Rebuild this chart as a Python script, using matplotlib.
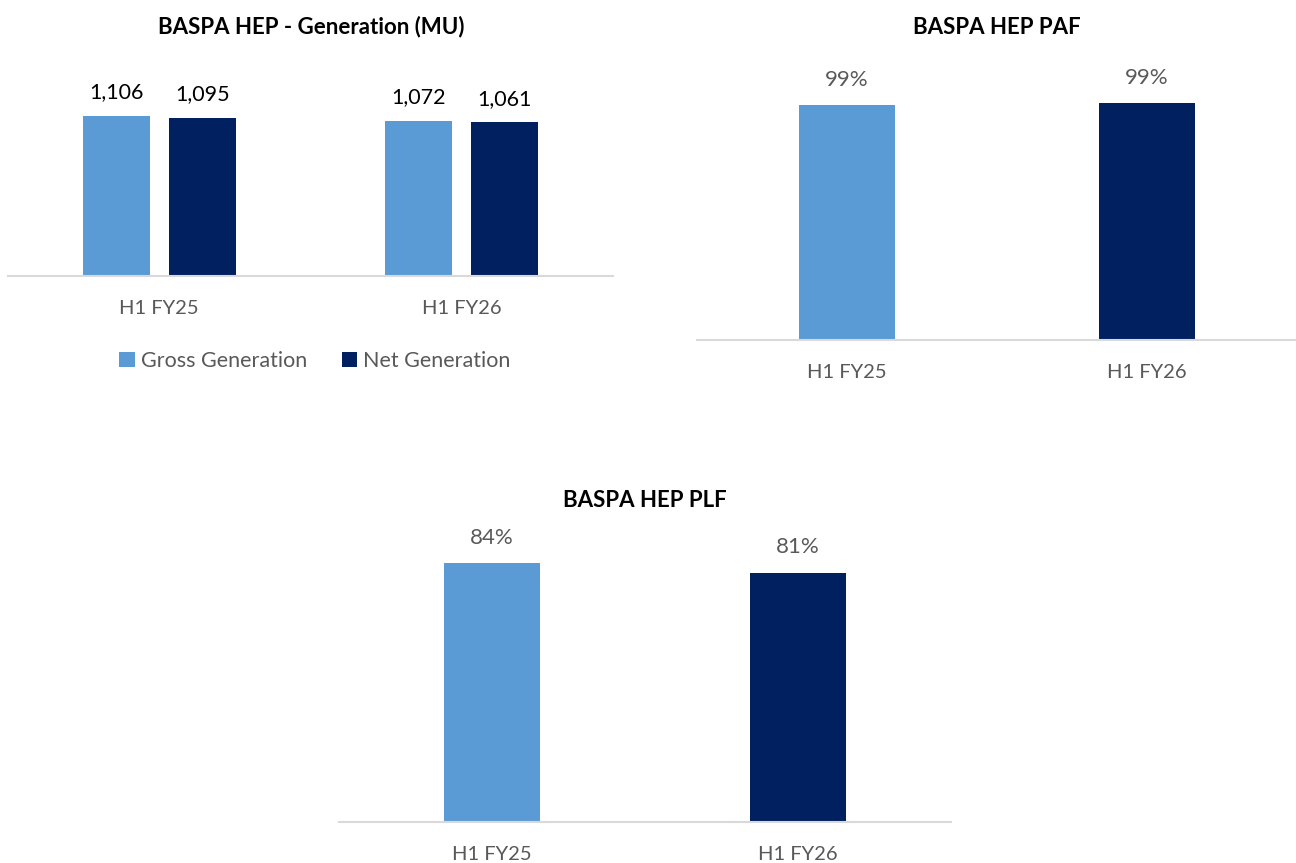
import numpy as np
import matplotlib.pyplot as plt

periods = ["H1 FY25", "H1 FY26"]
gross_gen = [1106, 1072]
net_gen = [1095, 1061]
gen_labels_gross = ["1,106", "1,072"]
gen_labels_net = ["1,095", "1,061"]
paf = [98.6, 99.6]
paf_labels = ["99%", "99%"]
plf = [84, 81]
plf_labels = ["84%", "81%"]

LIGHT = "#5B9BD5"
DARK = "#002060"
GRAY = "#595959"
W, H = 1296, 863

plt.rcParams['font.family'] = ['Lato', 'DejaVu Sans']


def px_axes(fig, x0, x1, ytop, ybase):
    return fig.add_axes([x0 / W, 1 - ybase / H, (x1 - x0) / W, (ybase - ytop) / H])


def style(ax):
    for s in ["top", "right", "left"]:
        ax.spines[s].set_visible(False)
    ax.spines["bottom"].set_color("#D9D9D9")
    ax.spines["bottom"].set_linewidth(1.5)
    ax.set_yticks([])
    ax.tick_params(axis="x", length=0, pad=17, labelsize=14.5, labelcolor=GRAY)
    ax.set_xlim(-0.5, 1.5)


fig = plt.figure(figsize=(W / 100, H / 100), dpi=100)

# generation chart
x = np.arange(len(periods))
ax1 = px_axes(fig, 8, 613, 60, 276)
style(ax1)
bw, off = 0.222, 0.142
b1 = ax1.bar(x - off, gross_gen, bw, color=LIGHT, label="Gross Generation")
b2 = ax1.bar(x + off, net_gen, bw, color=DARK, label="Net Generation")
ax1.set_ylim(0, 1493)
ax1.set_xticks(x)
ax1.set_xticklabels(periods)
ax1.bar_label(b1, labels=gen_labels_gross, padding=10, fontsize=15.5, color="black")
ax1.bar_label(b2, labels=gen_labels_net, padding=10, fontsize=15.5, color="black")
fig.text(311 / W, 1 - 27 / H, "BASPA HEP - Generation (MU)", ha="center", va="center",
         fontsize=16, fontweight="bold")
fig.legend(handles=[b1, b2], loc="center", bbox_to_anchor=(315 / W, 1 - 361 / H), ncol=2,
           frameon=False, fontsize=15.5, labelcolor=GRAY, handlelength=0.7, handleheight=0.7,
           handletextpad=0.3, columnspacing=1.6)

# PAF chart
ax2 = px_axes(fig, 697, 1297, 60, 340)
style(ax2)
b3 = ax2.bar(x, paf, 0.317, color=[LIGHT, DARK])
ax2.set_ylim(0, 117.6)
ax2.set_xticks(x)
ax2.set_xticklabels(periods)
ax2.bar_label(b3, labels=paf_labels, padding=11, fontsize=16, color=GRAY)
fig.text(997 / W, 1 - 28 / H, "BASPA HEP PAF", ha="center", va="center",
         fontsize=16, fontweight="bold")

# PLF chart
ax3 = px_axes(fig, 339, 951, 530, 822)
style(ax3)
b4 = ax3.bar(x, plf, 0.316, color=[LIGHT, DARK])
ax3.set_ylim(0, 94.8)
ax3.set_xticks(x)
ax3.set_xticklabels(periods)
ax3.bar_label(b4, labels=plf_labels, padding=11, fontsize=16, color=GRAY)
fig.text(645 / W, 1 - 500 / H, "BASPA HEP PLF", ha="center", va="center",
         fontsize=16, fontweight="bold")

fig.savefig("out.png", dpi=100, facecolor="white")
